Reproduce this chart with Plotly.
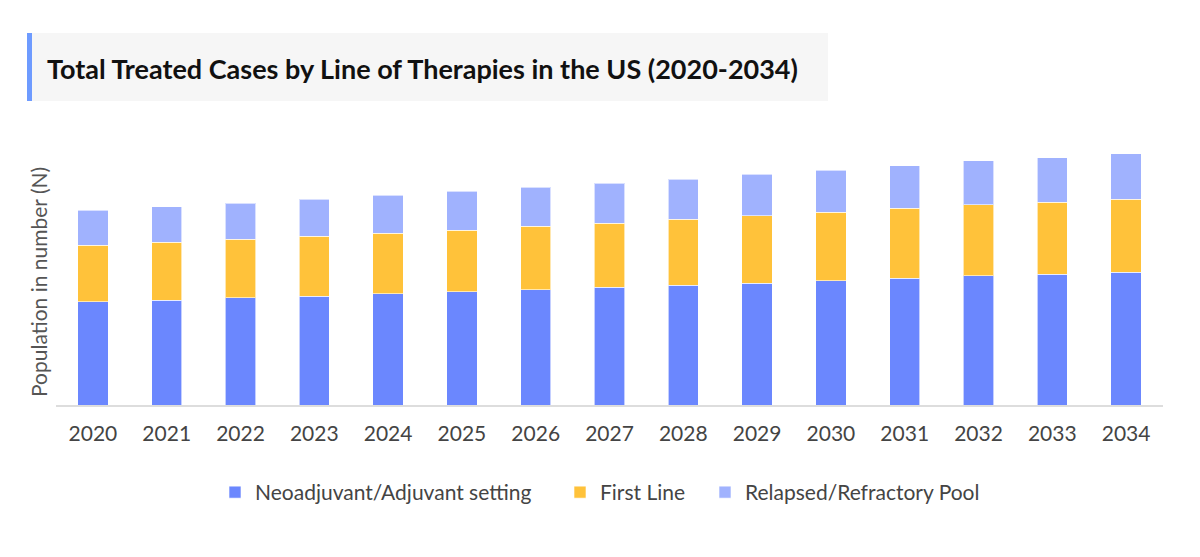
import plotly.graph_objects as go

years = [str(y) for y in range(2020, 2035)]

# stacked segment heights (no y scale shown, read as relative units)
neoadjuvant = [103.3, 105.0, 107.3, 109.0, 111.3, 113.3, 115.3, 117.7, 120.0, 122.0,
               124.3, 126.7, 129.3, 130.7, 132.7]
first_line = [56.4, 57.7, 58.4, 60.0, 60.4, 61.7, 63.7, 64.3, 65.7, 67.3,
              68.7, 70.0, 71.0, 72.3, 73.3]
relapsed = [35.0, 35.6, 36.0, 36.7, 38.0, 39.0, 39.0, 39.7, 40.3, 41.4,
            42.0, 42.6, 44.0, 44.3, 45.3]

series_names = ["Neoadjuvant/Adjuvant setting", "First Line", "Relapsed/Refractory Pool"]
series_colors = ["#6b87fe", "#ffc23a", "#a0b2fe"]

W, H = 1200, 557
L, R, T, B = 56, 37, 130, 152
pw, ph = W - L - R, H - T - B


def px_x(x):
    return (x - L) / pw


def px_y(y):
    return (H - B - y) / ph


legend_ids = ["legend", "legend2", "legend3"]
legend_left = [215, 560, 705]  # left edge of each legend box, px

fig = go.Figure()
for name, vals, col, lg in zip(series_names, [neoadjuvant, first_line, relapsed],
                               series_colors, legend_ids):
    fig.add_trace(go.Bar(
        x=years, y=vals, name=name, legend=lg,
        marker=dict(color=col, line=dict(color="rgba(255,255,255,0.6)", width=1)),
    ))

legend_style = dict(
    orientation="h", xanchor="left", y=px_y(492.5), yanchor="middle",
    font=dict(size=21, color="#444"), itemwidth=30, bgcolor="rgba(0,0,0,0)",
)

fig.update_layout(
    barmode="stack",
    bargap=0.59,
    width=W, height=H,
    margin=dict(l=L, r=R, t=T, b=B),
    paper_bgcolor="white",
    plot_bgcolor="white",
    font=dict(family="Lato, 'Noto Sans', sans-serif", color="#444", size=21),
    showlegend=True,
    legend=dict(x=px_x(legend_left[0]), **legend_style),
    legend2=dict(x=px_x(legend_left[1]), **legend_style),
    legend3=dict(x=px_x(legend_left[2]), **legend_style),
    xaxis=dict(
        showgrid=False, showline=True, linecolor="#dddddd", linewidth=2,
        ticks="outside", ticklen=9, tickcolor="rgba(0,0,0,0)",
        tickfont=dict(size=21, color="#444"),
    ),
    yaxis=dict(range=[0, ph], showgrid=False, showticklabels=False,
               zeroline=False, showline=False),
)

# title box with accent bar
fig.add_shape(type="rect", xref="paper", yref="paper",
              x0=px_x(27), x1=px_x(828), y0=px_y(101), y1=px_y(33),
              fillcolor="#f6f6f6", line=dict(width=0), layer="below")
fig.add_shape(type="rect", xref="paper", yref="paper",
              x0=px_x(27), x1=px_x(32), y0=px_y(101), y1=px_y(33),
              fillcolor="#6e9bff", line=dict(width=0))
fig.add_annotation(
    text="<b>Total Treated Cases by Line of Therapies in the US (2020-2034)</b>",
    xref="paper", yref="paper", x=px_x(45), y=px_y(68),
    xanchor="left", yanchor="middle", showarrow=False,
    font=dict(size=27, color="#111", family="Lato, 'Noto Sans', sans-serif"),
)

# y axis title
fig.add_annotation(
    text="Population in number (N)", textangle=-90,
    xref="paper", yref="paper", x=px_x(38), y=px_y(282),
    xanchor="center", yanchor="middle", showarrow=False,
    font=dict(size=21, color="#555"),
)

fig.write_html("out.html", config={"displayModeBar": False},
               post_script="document.body.style.margin='0';")
